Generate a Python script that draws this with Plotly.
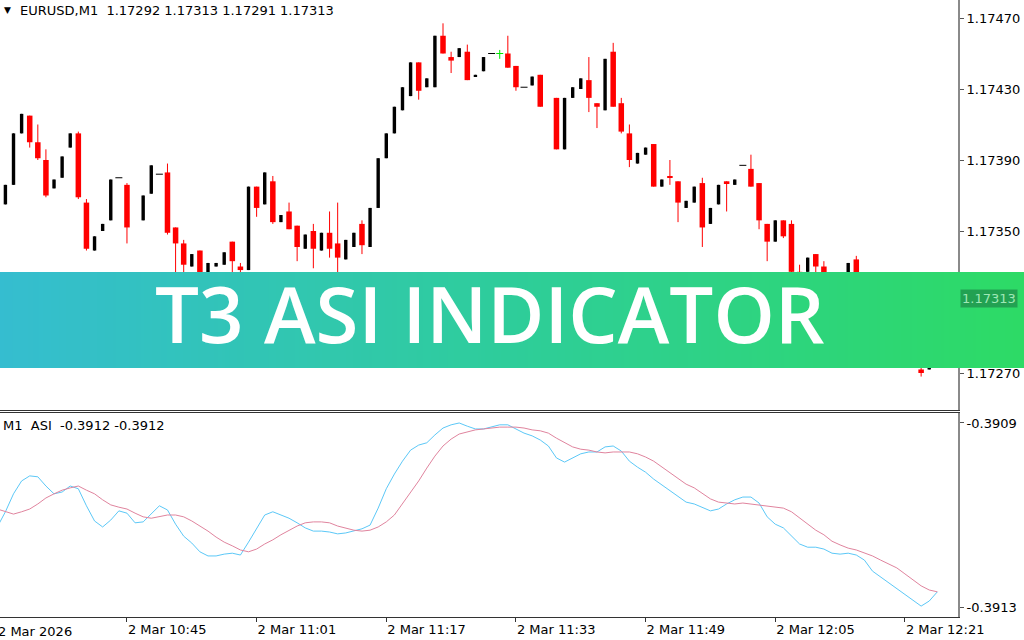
import plotly.graph_objects as go

W, H = 1024, 640

# ---------------- data ----------------
bar_idx = [1, 2, 3, 4, 5, 6, 7, 8, 9, 10, 11, 12, 13, 14, 15, 16, 18, 19, 20,
           21, 22, 23, 24, 25, 26, 27, 28, 29, 30, 31, 32, 33, 34, 35, 36, 37, 38, 39, 40,
           41, 42, 43, 44, 45, 46, 47, 48, 49, 50, 51, 52, 53, 54, 55, 56, 57, 58, 59, 60,
           61, 62, 63, 64, 65, 66, 67, 69, 70, 71, 72, 73, 74, 75, 76, 77, 78, 79, 80,
           81, 82, 83, 84, 85, 86, 87, 88, 89, 90, 91, 92, 93, 94, 95, 96, 97, 98, 99, 100,
           101, 102, 103, 104, 105, 106, 107, 108, 109, 110, 111, 112, 113, 114, 115, 116]
open_ = [1.17365, 1.17376, 1.17405, 1.17415, 1.17400, 1.17390, 1.17374, 1.17380, 1.17397, 1.17405,
         1.17366, 1.17339, 1.17350, 1.17356, 1.17380, 1.17376, 1.17356, 1.17371, 1.17382,
         1.17383, 1.17352, 1.17343, 1.17330, 1.17339, 1.17318, 1.17330, 1.17331, 1.17344, 1.17330,
         1.17328, 1.17375, 1.17365, 1.17378, 1.17355, 1.17361, 1.17353, 1.17340, 1.17350, 1.17339,
         1.17349, 1.17343, 1.17334, 1.17341, 1.17354, 1.17341, 1.17363, 1.17391, 1.17405, 1.17418,
         1.17426, 1.17445, 1.17431, 1.17431, 1.17460, 1.17448, 1.17448, 1.17451, 1.17437, 1.17440,
         1.17450, 1.17450, 1.17450, 1.17443, 1.17431, 1.17432, 1.17438, 1.17425, 1.17396, 1.17425,
         1.17430, 1.17435, 1.17422, 1.17418, 1.17451, 1.17422, 1.17405, 1.17388, 1.17393,
         1.17399, 1.17375, 1.17381, 1.17378, 1.17363, 1.17366, 1.17377, 1.17354, 1.17365, 1.17378,
         1.17376, 1.17387, 1.17385, 1.17377, 1.17354, 1.17344, 1.17356, 1.17354, 1.17327, 1.17327,
         1.17337, 1.17330, 1.17321, 1.17321, 1.17322, 1.17334, 1.17313, 1.17296, 1.17296, 1.17294,
         1.17294, 1.17279, 1.17274, 1.17272, 1.17272, 1.17292]
high = [1.17376, 1.17405, 1.17416, 1.17415, 1.17410, 1.17396, 1.17379, 1.17392, 1.17405, 1.17406,
        1.17368, 1.17347, 1.17354, 1.17379, 1.17380, 1.17377, 1.17370, 1.17387, 1.17382,
        1.17388, 1.17352, 1.17345, 1.17337, 1.17339, 1.17332, 1.17332, 1.17338, 1.17344, 1.17332,
        1.17375, 1.17375, 1.17383, 1.17381, 1.17359, 1.17366, 1.17353, 1.17348, 1.17354, 1.17349,
        1.17361, 1.17366, 1.17345, 1.17349, 1.17356, 1.17363, 1.17391, 1.17405, 1.17420, 1.17431,
        1.17445, 1.17445, 1.17436, 1.17460, 1.17467, 1.17451, 1.17453, 1.17455, 1.17438, 1.17448,
        1.17450, 1.17452, 1.17460, 1.17443, 1.17431, 1.17437, 1.17438, 1.17425, 1.17425, 1.17431,
        1.17436, 1.17448, 1.17422, 1.17447, 1.17456, 1.17425, 1.17410, 1.17394, 1.17397,
        1.17399, 1.17379, 1.17390, 1.17378, 1.17367, 1.17375, 1.17380, 1.17363, 1.17376, 1.17378,
        1.17379, 1.17387, 1.17393, 1.17377, 1.17354, 1.17356, 1.17356, 1.17356, 1.17331, 1.17335,
        1.17337, 1.17333, 1.17321, 1.17323, 1.17332, 1.17336, 1.17316, 1.17301, 1.17303, 1.17295,
        1.17294, 1.17290, 1.17274, 1.17283, 1.17295, 1.17313]
low = [1.17365, 1.17376, 1.17405, 1.17397, 1.17390, 1.17369, 1.17374, 1.17380, 1.17397, 1.17368,
       1.17339, 1.17339, 1.17350, 1.17356, 1.17380, 1.17343, 1.17356, 1.17371, 1.17382,
       1.17348, 1.17324, 1.17321, 1.17330, 1.17304, 1.17318, 1.17330, 1.17331, 1.17313, 1.17315,
       1.17328, 1.17358, 1.17365, 1.17354, 1.17355, 1.17351, 1.17333, 1.17340, 1.17329, 1.17339,
       1.17335, 1.17323, 1.17334, 1.17341, 1.17337, 1.17341, 1.17363, 1.17391, 1.17405, 1.17418,
       1.17426, 1.17424, 1.17431, 1.17431, 1.17450, 1.17439, 1.17448, 1.17435, 1.17437, 1.17440,
       1.17450, 1.17447, 1.17442, 1.17429, 1.17431, 1.17432, 1.17420, 1.17396, 1.17396, 1.17425,
       1.17430, 1.17417, 1.17408, 1.17418, 1.17420, 1.17405, 1.17386, 1.17388, 1.17393,
       1.17375, 1.17375, 1.17376, 1.17355, 1.17363, 1.17366, 1.17341, 1.17354, 1.17365, 1.17361,
       1.17376, 1.17387, 1.17375, 1.17351, 1.17333, 1.17344, 1.17346, 1.17321, 1.17318, 1.17327,
       1.17326, 1.17322, 1.17321, 1.17321, 1.17322, 1.17312, 1.17291, 1.17295, 1.17295, 1.17278,
       1.17276, 1.17275, 1.17274, 1.17268, 1.17272, 1.17291]
close = [1.17376, 1.17405, 1.17416, 1.17400, 1.17391, 1.17370, 1.17379, 1.17392, 1.17405, 1.17369,
         1.17340, 1.17347, 1.17354, 1.17379, 1.17380, 1.17352, 1.17370, 1.17387, 1.17382,
         1.17349, 1.17343, 1.17331, 1.17337, 1.17318, 1.17332, 1.17332, 1.17338, 1.17333, 1.17328,
         1.17375, 1.17363, 1.17383, 1.17355, 1.17359, 1.17351, 1.17341, 1.17348, 1.17340, 1.17349,
         1.17340, 1.17335, 1.17345, 1.17349, 1.17342, 1.17363, 1.17391, 1.17405, 1.17420, 1.17431,
         1.17445, 1.17429, 1.17436, 1.17460, 1.17450, 1.17446, 1.17453, 1.17435, 1.17438, 1.17448,
         1.17450, 1.17450, 1.17442, 1.17431, 1.17431, 1.17437, 1.17420, 1.17396, 1.17425, 1.17431,
         1.17436, 1.17425, 1.17420, 1.17447, 1.17420, 1.17406, 1.17390, 1.17394, 1.17397,
         1.17375, 1.17379, 1.17380, 1.17366, 1.17367, 1.17375, 1.17352, 1.17363, 1.17376, 1.17377,
         1.17379, 1.17387, 1.17375, 1.17356, 1.17344, 1.17356, 1.17347, 1.17327, 1.17325, 1.17335,
         1.17330, 1.17322, 1.17321, 1.17323, 1.17332, 1.17315, 1.17295, 1.17295, 1.17295, 1.17294,
         1.17278, 1.17275, 1.17274, 1.17270, 1.17295, 1.17313]

ind_idx = list(range(0, 117))
asi = [-0.391126, -0.391093, -0.391054, -0.391026, -0.391015, -0.391017, -0.391037, -0.391054, -0.391050, -0.391037,
       -0.391043, -0.391080, -0.391113, -0.391126, -0.391111, -0.391091, -0.391096, -0.391117, -0.391115, -0.391098,
       -0.391080, -0.391089, -0.391120, -0.391146, -0.391161, -0.391180, -0.391189, -0.391189, -0.391185, -0.391183,
       -0.391187, -0.391159, -0.391128, -0.391100, -0.391093, -0.391100, -0.391107, -0.391117, -0.391128, -0.391135,
       -0.391135, -0.391137, -0.391141, -0.391139, -0.391135, -0.391130, -0.391122, -0.391085, -0.391043, -0.391011,
       -0.390983, -0.390959, -0.390948, -0.390943, -0.390926, -0.390911, -0.390904, -0.390900, -0.390907, -0.390913,
       -0.390913, -0.390909, -0.390904, -0.390904, -0.390913, -0.390922, -0.390928, -0.390937, -0.390950, -0.390976,
       -0.390985, -0.390976, -0.390967, -0.390963, -0.390963, -0.390952, -0.390950, -0.390961, -0.390983, -0.390996,
       -0.391007, -0.391022, -0.391035, -0.391048, -0.391059, -0.391072, -0.391076, -0.391083, -0.391091, -0.391087,
       -0.391076, -0.391067, -0.391061, -0.391061, -0.391074, -0.391104, -0.391120, -0.391128, -0.391146, -0.391163,
       -0.391170, -0.391170, -0.391174, -0.391183, -0.391185, -0.391183, -0.391187, -0.391198, -0.391222, -0.391235,
       -0.391246, -0.391259, -0.391274, -0.391287, -0.391298, -0.391287, -0.391267]
asi_t3 = [-0.391087, -0.391093, -0.391098, -0.391093, -0.391087, -0.391076, -0.391063, -0.391054, -0.391046, -0.391041,
          -0.391037, -0.391046, -0.391054, -0.391067, -0.391078, -0.391083, -0.391087, -0.391096, -0.391104, -0.391107,
          -0.391104, -0.391100, -0.391100, -0.391104, -0.391113, -0.391124, -0.391135, -0.391148, -0.391159, -0.391167,
          -0.391176, -0.391180, -0.391174, -0.391163, -0.391154, -0.391143, -0.391133, -0.391124, -0.391117, -0.391115,
          -0.391115, -0.391117, -0.391124, -0.391128, -0.391133, -0.391135, -0.391133, -0.391126, -0.391115, -0.391100,
          -0.391076, -0.391052, -0.391026, -0.390998, -0.390972, -0.390950, -0.390935, -0.390924, -0.390920, -0.390915,
          -0.390913, -0.390911, -0.390909, -0.390909, -0.390909, -0.390911, -0.390915, -0.390917, -0.390922, -0.390933,
          -0.390943, -0.390952, -0.390957, -0.390959, -0.390963, -0.390965, -0.390963, -0.390963, -0.390963, -0.390967,
          -0.390974, -0.390983, -0.390996, -0.391009, -0.391022, -0.391033, -0.391041, -0.391054, -0.391065, -0.391072,
          -0.391074, -0.391076, -0.391074, -0.391076, -0.391078, -0.391080, -0.391083, -0.391085, -0.391093, -0.391107,
          -0.391120, -0.391133, -0.391143, -0.391157, -0.391165, -0.391172, -0.391176, -0.391183, -0.391189, -0.391198,
          -0.391207, -0.391215, -0.391228, -0.391241, -0.391254, -0.391263, -0.391267]

time_tick_idx = [16, 32, 48, 64, 80, 96, 112]
time_tick_text = ["2 Mar 10:45", "2 Mar 11:01", "2 Mar 11:17", "2 Mar 11:33",
                  "2 Mar 11:49", "2 Mar 12:05", "2 Mar 12:21"]
first_time_label = "2 Mar 2026"
price_ticks = [1.17270, 1.17310, 1.17350, 1.17390, 1.17430, 1.17470]
asi_ticks = [-0.3913, -0.3909]
header = "EURUSD,M1\u00a0\u00a01.17292 1.17313 1.17291 1.17313"
ind_label = "M1\u00a0\u00a0ASI\u00a0\u00a0-0.3912 -0.3912"
last_price = "1.17313"
title = "T3 ASI INDICATOR"

# ---------------- helpers ----------------
def pxx(p):
    return p / W

def pxy(p):
    return 1 - p / H

FONT = "DejaVu Sans"
X_RANGE = [0.333, 118.55]
PRICE_RANGE = [1.1724916, 1.1748014]
ASI_RANGE = [-0.3913217, -0.3908783]
PANE_X = [0, 958 / W]

fig = go.Figure()

# split candles
bull, bear, flat, doji = [], [], [], []
for k, i in enumerate(bar_idx):
    o, h, l, c = open_[k], high[k], low[k], close[k]
    if c > o:
        bull.append(k)
    elif c < o:
        bear.append(k)
    elif h > l:
        doji.append(k)
    else:
        flat.append(k)


def wick_xy(ids):
    xs, ys = [], []
    for k in ids:
        if high[k] > low[k]:
            xs += [bar_idx[k], bar_idx[k], None]
            ys += [low[k], high[k], None]
    return xs, ys


for ids, col in ((bull, "#000000"), (bear, "#ff0000"), (doji, "#00e600")):
    wx, wy = wick_xy(ids)
    fig.add_trace(go.Scatter(x=wx, y=wy, mode="lines", line=dict(color=col, width=1),
                             xaxis="x", yaxis="y", hoverinfo="skip", showlegend=False))

fig.add_trace(go.Bar(x=[bar_idx[k] for k in bull], base=[open_[k] for k in bull],
                     y=[close[k] - open_[k] for k in bull], width=0.42,
                     marker=dict(color="#000000", line=dict(width=0)),
                     xaxis="x", yaxis="y", showlegend=False))
fig.add_trace(go.Bar(x=[bar_idx[k] for k in bear], base=[close[k] for k in bear],
                     y=[open_[k] - close[k] for k in bear], width=0.68,
                     marker=dict(color="#ff0000", line=dict(width=0)),
                     xaxis="x", yaxis="y", showlegend=False))
fig.add_trace(go.Scatter(x=[bar_idx[k] for k in flat], y=[close[k] for k in flat], mode="markers",
                         marker=dict(symbol="line-ew", size=5, line=dict(color="#000000", width=1)),
                         xaxis="x", yaxis="y", showlegend=False))
fig.add_trace(go.Scatter(x=[bar_idx[k] for k in doji], y=[close[k] for k in doji], mode="markers",
                         marker=dict(symbol="line-ew", size=5, line=dict(color="#00e600", width=1)),
                         xaxis="x", yaxis="y", showlegend=False))

# indicator
fig.add_trace(go.Scatter(x=ind_idx, y=asi, mode="lines", line=dict(color="#5cc8f7", width=1),
                         xaxis="x2", yaxis="y2", showlegend=False))
fig.add_trace(go.Scatter(x=ind_idx, y=asi_t3, mode="lines", line=dict(color="#e0849e", width=1),
                         xaxis="x2", yaxis="y2", showlegend=False))

# banner (gradient band, slightly see-through)
fig.add_trace(go.Heatmap(z=[[0, 1]], x=[0, 1], y=[0], zsmooth="best", showscale=False,
                         colorscale=[[0, "#09afc6"], [0.5, "#01c384"], [1, "#00d344"]],
                         opacity=0.82, xaxis="x3", yaxis="y3", hoverinfo="skip"))

axfont = dict(family=FONT, size=13, color="#000000")
fig.update_layout(
    width=W, height=H, autosize=False,
    margin=dict(l=0, r=0, t=0, b=0, pad=0, autoexpand=False),
    paper_bgcolor="white", plot_bgcolor="white", barmode="overlay", showlegend=False,
    xaxis=dict(domain=PANE_X, range=X_RANGE, anchor="y", showgrid=False, zeroline=False,
               showticklabels=False, ticks="", showline=True, linecolor="#333333", linewidth=1,
               automargin=False),
    yaxis=dict(domain=[pxy(410), 1], range=PRICE_RANGE, anchor="x", side="right",
               showgrid=False, zeroline=False, showline=True, linecolor="#8a8a8a", linewidth=2,
               ticks="outside", ticklen=4, tickcolor="#555555", tickvals=price_ticks,
               ticktext=[f"{v:.5f}" for v in price_ticks], tickfont=axfont, automargin=False),
    xaxis2=dict(domain=PANE_X, range=X_RANGE, anchor="y2", showgrid=False, zeroline=False,
                showline=True, mirror=True, linecolor="#333333", linewidth=1,
                ticks="outside", ticklen=4, tickcolor="#333333", tickvals=time_tick_idx,
                ticktext=time_tick_text, ticklabelposition="outside right", tickfont=axfont,
                automargin=False),
    yaxis2=dict(domain=[pxy(617), pxy(413)], range=ASI_RANGE, anchor="x2", side="right",
                showgrid=False, zeroline=False, showline=True, linecolor="#8a8a8a", linewidth=2,
                ticks="outside", ticklen=4, tickcolor="#555555", tickvals=asi_ticks,
                ticktext=[f"{v:.4f}" for v in asi_ticks], tickfont=axfont, automargin=False),
    xaxis3=dict(domain=[0, 1], range=[0, 1], anchor="y3", visible=False, automargin=False),
    yaxis3=dict(domain=[pxy(368), pxy(272)], range=[-0.5, 0.5], anchor="x3", visible=False,
                automargin=False),
)

ann = [
    dict(text="\u25bc", x=pxx(2), y=pxy(10), xanchor="left", yanchor="middle",
         font=dict(family=FONT, size=9, color="#000000")),
    dict(text=header, x=pxx(18), y=pxy(10), xanchor="left", yanchor="middle", font=axfont),
    dict(text=ind_label, x=pxx(1), y=pxy(425), xanchor="left", yanchor="middle", font=axfont),
    dict(text=first_time_label, x=pxx(-4), y=pxy(631), xanchor="left", yanchor="middle", font=axfont),
    dict(text=last_price, x=pxx(960), y=pxy(298), xanchor="left", yanchor="middle",
         bgcolor="#22a152", borderpad=1, font=dict(family=FONT, size=13, color="#9fe8b6")),
    dict(text=title, x=pxx(490), y=pxy(313), xanchor="center", yanchor="middle",
         font=dict(family="Open Sans", size=78, color="#ffffff", weight=600)),
]
for a in ann:
    a.update(xref="paper", yref="paper", showarrow=False)
fig.update_layout(annotations=ann)

fig.write_html(
    "out.html",
    config={"responsive": False, "displayModeBar": False},
    default_width="1024px", default_height="640px",
    post_script="document.body.style.margin='0px';document.body.style.overflow='hidden';",
)
